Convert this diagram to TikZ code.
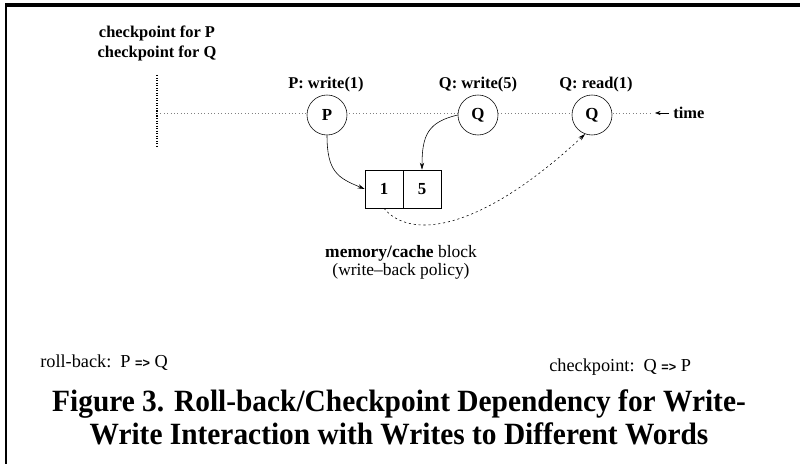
\documentclass[tikz,border=0pt]{standalone}
\usepackage{fontspec}
\setmainfont{Liberation Serif}
\setsansfont{Liberation Sans}
\usetikzlibrary{arrows.meta}

\begin{document}
\begin{tikzpicture}[x=0.025cm,y=-0.025cm,
  event/.style={circle,draw,thin,fill=white,minimum size=1cm,inner sep=0pt,font=\fontsize{12}{14}\selectfont\bfseries},
  cell/.style={rectangle,draw,thin,minimum size=0.95cm,inner sep=0pt,font=\fontsize{12}{14}\selectfont\bfseries},
  lbl/.style={inner sep=0pt,font=\fontsize{11.7}{14}\selectfont\bfseries},
  note/.style={inner sep=0pt,font=\fontsize{13}{15}\selectfont},
  caption/.style={inner sep=0pt,font=\fontsize{22}{26}\selectfont\bfseries,xscale=0.95}]
  \useasboundingbox (0,0) rectangle (800,464);
  \draw[line width=2.2pt] (5,5) -- (800,5);
  \draw[line width=2pt] (6,4) -- (6,464);
  \node[lbl] (cpP) at (157,33) {checkpoint for P};
  \node[lbl] (cpQ) at (157,53) {checkpoint for Q};
  \draw[densely dotted,line width=0.8pt] (157,75) -- (157,147);
  \draw[dotted,gray,line width=0.4pt] (157,113) -- (650,113);
  \node[event] (P) at (327,115) {P};
  \node[event] (Qw) at (478,115) {Q};
  \node[event] (Qr) at (592,115) {Q};
  \node[lbl] (lP) at (326,85) {P: write(1)};
  \node[lbl] (lQw) at (478,85) {Q: write(5)};
  \node[lbl] (lQr) at (596,85) {Q: read(1)};
  \node[lbl,anchor=west] (time) at (673,113) {time};
  \coordinate (tip) at (655,113);
  \draw[-{Stealth[length=4pt,width=3pt]}] (time.west) ++(-4,0) -- (tip);
  \node[cell] (c1) at (384,189) {1};
  \node[cell] (c5) at (422,189) {5};
  \draw[-{Stealth[length=5pt,width=3pt]}] (P.south) .. controls (327,172) and (338,178) .. (c1.west);
  \draw[-{Stealth[length=5pt,width=3pt]}] (Qw.west) .. controls (428,122) and (422,135) .. (c5.north);
  \draw[dash pattern=on 1.5pt off 2pt,-{Stealth[length=5pt,width=3pt]}] (c1.south) .. controls (410,240) and (480,232) .. (Qr.250);
  \node[inner sep=0pt,font=\fontsize{12.4}{14}\selectfont] (mem) at (401,253) {\textbf{memory/cache} block};
  \node[inner sep=0pt,font=\fontsize{12.4}{14}\selectfont] (pol) at (401,271) {(write--back policy)};
  \node[note,anchor=west] (rb) at (40,363) {roll-back:\ \ P {\sffamily\bfseries\small =>} Q};
  \node[note,anchor=west] (ck) at (549,367) {checkpoint:\ \ Q\ {\sffamily\bfseries\small =>}\ P};
  \node[caption] (cap1) at (399,404) {Figure 3. Roll-back/Checkpoint Dependency for Write-};
  \node[caption] (cap2) at (399,434) {Write Interaction with Writes to Different Words};
\end{tikzpicture}
\end{document}
